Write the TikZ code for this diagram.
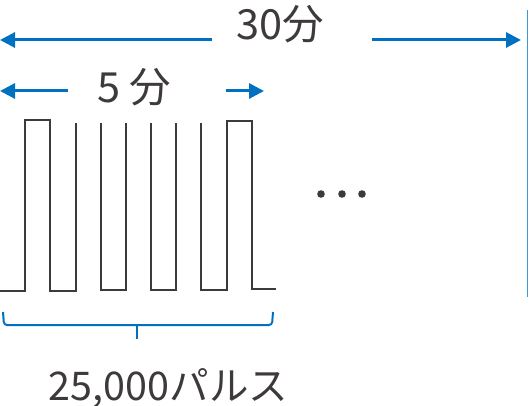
\documentclass[tikz,border=0pt]{standalone}
\usepackage{fontspec}
\setmainfont{Noto Sans CJK JP}
\usetikzlibrary{arrows.meta}
\definecolor{arrblue}{HTML}{0070C0}
\definecolor{lineblue}{HTML}{3A9AD9}
\definecolor{ink}{HTML}{3E3A39}
\tikzset{
  lbl/.style={inner sep=0pt, anchor=base, text=ink, font=\fontsize{41.5}{44}\selectfont},
  arr/.style={draw=arrblue, line width=3pt, -{Triangle[length=15pt,width=15pt]}},
  wave/.style={draw=ink, line width=2pt, line join=miter},
  brace/.style={draw=arrblue, line width=2pt, rounded corners=3pt},
}
\begin{document}
\begin{tikzpicture}[x=1pt,y=-1pt]
\useasboundingbox (0,0) rectangle (529,406);
% labels
\node[lbl] (t30) at (280,40) {30分};
\node[lbl] (t5) at (134,103) {5 分};
\node[lbl, font=\fontsize{39.5}{42}\selectfont] (tp) at (168.5,400) {25,000パルス};
% arrow end points
\coordinate (a30l) at (212,40);
\coordinate (a30le) at (0,40);
\coordinate (a30r) at (372,40);
\coordinate (a30re) at (521,40);
\coordinate (a5l) at (68,91);
\coordinate (a5le) at (0,91);
\coordinate (a5r) at (226,91);
\coordinate (a5re) at (264,91);
\draw[arr] (a30l) -- (a30le);
\draw[arr] (a30r) -- (a30re);
\draw[arr] (a5l) -- (a5le);
\draw[arr] (a5r) -- (a5re);
% right boundary line
\coordinate (rt) at (527.5,10);
\coordinate (rb) at (527.5,297);
\draw[lineblue, line width=1.6pt] (rt) -- (rb);
% pulse train
\draw[wave] (0,291) -- (25,291) -- (25,120) -- (50,120) -- (50,291) -- (76,291) -- (76,123);
\draw[wave] (101,123) -- (101,290) -- (126,290) -- (126,123);
\draw[wave] (151,123) -- (151,290) -- (176,290) -- (176,123);
\draw[wave] (201,123) -- (201,290) -- (227,290) -- (227,121) -- (252,121) -- (252,289) -- (276,289);
% dots
\foreach \x in {321,342,362} \fill[ink] (\x,194) circle (3.8);
% brace
\coordinate (bl) at (3,312);
\coordinate (br) at (273,312);
\coordinate (bm) at (137,339);
\draw[brace] (bl) -- (4,325) -- (272,325) -- (br);
\draw[draw=arrblue, line width=2pt] (137,325) -- (bm);
\end{tikzpicture}
\end{document}
